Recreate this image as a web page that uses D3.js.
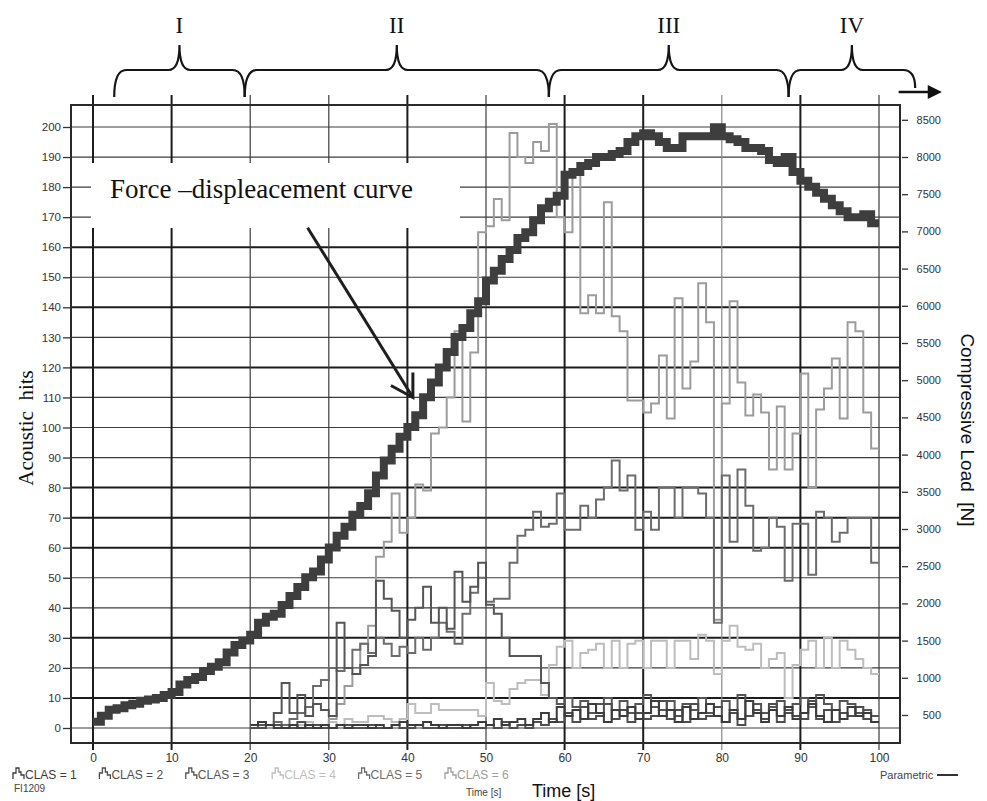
<!DOCTYPE html>
<html>
<head>
<meta charset="utf-8">
<script src="https://cdn.jsdelivr.net/npm/d3@7"></script>
<style>
  body { margin: 0; background: #fff; }
  svg { display: block; }
</style>
</head>
<body>
<svg id="chart" width="987" height="801"></svg>
<script>
// --- data -------------------------------------------------------------
const X_TICKS = [0, 10, 20, 30, 40, 50, 60, 70, 80, 90, 100]
const HIT_TICKS = [0, 10, 20, 30, 40, 50, 60, 70, 80, 90, 100, 110, 120, 130, 140, 150, 160, 170, 180, 190, 200]
const LOAD_TICKS = [500, 1000, 1500, 2000, 2500, 3000, 3500, 4000, 4500, 5000, 5500, 6000, 6500, 7000, 7500, 8000, 8500]

// compressive load [N], one value per second from t = 0
const LOAD_T0 = 0
const LOAD_N = [
  410, 490, 570, 590, 630, 650, 690, 710, 730, 770,
  810, 910, 970, 1010, 1090, 1150, 1210, 1340, 1440, 1500,
  1580, 1740, 1820, 1860, 1980, 2100, 2220, 2350, 2430, 2590,
  2750, 2910, 3030, 3190, 3310, 3480, 3720, 3920, 4080, 4240,
  4370, 4530, 4770, 4970, 5170, 5380, 5580, 5700, 5900, 6060,
  6340, 6470, 6630, 6750, 6910, 6990, 7150, 7310, 7400, 7480,
  7760, 7800, 7880, 7920, 8000, 8000, 8040, 8080, 8200, 8280,
  8320, 8280, 8200, 8120, 8120, 8280, 8280, 8280, 8280, 8400,
  8280, 8240, 8200, 8120, 8120, 8080, 7960, 7920, 8000, 7800,
  7680, 7600, 7520, 7440, 7350, 7270, 7190, 7190, 7230, 7110,
]

// acoustic hits per 1 s bin, per class, from t = 20
const HITS_T0 = 20
const CLAS_1 = [
  1, 2, 1, 0, 0, 1, 0, 1, 0, 1,
  0, 1, 0, 1, 1, 0, 1, 0, 1, 2,
  1, 1, 2, 1, 0, 1, 1, 0, 1, 2,
  1, 3, 1, 2, 3, 1, 3, 5, 2, 7,
  4, 6, 3, 8, 5, 2, 6, 4, 7, 3,
  5, 9, 4, 6, 2, 7, 3, 5, 8, 4,
  2, 6, 3, 9, 5, 2, 6, 4, 7, 3,
  5, 8, 4, 2, 6, 3, 7, 4, 5, 2,
]
const CLAS_2 = [
  0, 0, 1, 1, 0, 0, 2, 0, 1, 0,
  0, 1, 1, 0, 0, 1, 0, 0, 1, 0,
  0, 1, 0, 0, 1, 0, 0, 1, 0, 0,
  1, 0, 2, 0, 1, 0, 2, 1, 3, 2,
  5, 2, 7, 3, 4, 8, 3, 6, 2, 5,
  3, 4, 9, 3, 6, 2, 8, 3, 4, 7,
  2, 5, 1, 4, 6, 3, 8, 2, 5, 4,
  3, 9, 3, 6, 2, 5, 4, 7, 3, 2,
]
const CLAS_3 = [
  0, 1, 1, 5, 15, 5, 11, 4, 8, 6,
  4, 35, 20, 18, 21, 24, 49, 43, 39, 30,
  36, 40, 47, 35, 40, 33, 52, 42, 47, 55,
  41, 38, 30, 24, 24, 24, 24, 15, 10, 8,
  10, 7, 9, 5, 8, 10, 6, 9, 5, 8,
  11, 7, 6, 9, 4, 8, 6, 10, 5, 7,
  9, 6, 11, 4, 8, 5, 7, 9, 6, 8,
  10, 7, 11, 8, 6, 9, 8, 5, 6, 4,
]
const CLAS_4 = [
  1, 2, 1, 0, 1, 0, 1, 2, 1, 0,
  2, 1, 3, 2, 2, 4, 4, 3, 2, 3,
  8, 5, 5, 8, 6, 6, 6, 6, 6, 4,
  15, 9, 8, 13, 15, 16, 16, 11, 21, 27,
  29, 20, 25, 26, 28, 20, 29, 20, 28, 29,
  20, 29, 29, 20, 29, 29, 23, 31, 29, 18,
  29, 34, 27, 26, 28, 20, 23, 25, 10, 21,
  26, 29, 20, 30, 20, 29, 26, 23, 20, 18,
]
const CLAS_5 = [
  0, 0, 1, 2, 1, 3, 5, 7, 14, 16,
  20, 19, 20, 26, 28, 25, 30, 28, 24, 27,
  25, 30, 26, 30, 35, 32, 28, 38, 45, 50,
  42, 43, 43, 55, 64, 66, 72, 67, 68, 78,
  66, 66, 74, 70, 76, 80, 89, 79, 84, 66,
  72, 66, 80, 80, 70, 80, 80, 78, 70, 35,
  84, 62, 86, 74, 59, 60, 70, 67, 49, 68,
  68, 51, 72, 70, 62, 65, 70, 70, 70, 55,
]
const CLAS_6 = [
  0, 1, 0, 0, 1, 0, 0, 1, 0, 1,
  3, 8, 14, 18, 28, 34, 57, 62, 78, 65,
  70, 81, 79, 98, 100, 110, 132, 102, 125, 165,
  167, 176, 169, 198, 190, 188, 195, 192, 201, 170,
  165, 186, 138, 144, 138, 175, 137, 132, 109, 109,
  105, 108, 124, 103, 143, 113, 122, 148, 135, 36,
  108, 142, 115, 104, 111, 105, 86, 107, 86, 98,
  118, 80, 106, 113, 123, 103, 135, 132, 105, 93,
]

// test phases over the time axis
const PHASES = [
  { label: 'I', start: 2.7, end: 19.3 },
  { label: 'II', start: 19.3, end: 58 },
  { label: 'III', start: 58, end: 88.5 },
  { label: 'IV', start: 88.5, end: 104.6 },
]

// --- layout ------------------------------------------------------------
const FRAME = { left: 71, right: 900, top: 105, bottom: 743 }
const SANS = "'Liberation Sans', Arial, sans-serif"
const SERIF = "'Liberation Serif', 'Times New Roman', serif"
const HEAVY_H = [10, 30, 60, 70, 80, 120, 140, 160]
const HEAVY_V = [0, 10, 40, 60, 70, 90]

const x = d3.scaleLinear().domain([0, 100]).range([93, 879])
const yHits = d3.scaleLinear().domain([0, 200]).range([728, 127])
const yLoad = d3.scaleLinear().domain([500, 8000]).range([715, 157])

const SERIES = [
  { name: 'CLAS = 1', values: CLAS_1, color: '#3c3c3c' },
  { name: 'CLAS = 2', values: CLAS_2, color: '#4e4e4e' },
  { name: 'CLAS = 3', values: CLAS_3, color: '#555555' },
  { name: 'CLAS = 4', values: CLAS_4, color: '#bdbdbd' },
  { name: 'CLAS = 5', values: CLAS_5, color: '#6c6c6c' },
  { name: 'CLAS = 6', values: CLAS_6, color: '#9c9c9c' },
]
const DRAW_ORDER = [3, 5, 4, 2, 1, 0]

const svg = d3.select('#chart')
svg.append('rect').attr('width', 987).attr('height', 801).attr('fill', '#fff')

// grid
const grid = svg.append('g')
grid.selectAll('line.h')
  .data(HIT_TICKS)
  .join('line')
  .attr('x1', FRAME.left).attr('x2', FRAME.right)
  .attr('y1', (d) => yHits(d)).attr('y2', (d) => yHits(d))
  .attr('stroke', (d) => (HEAVY_H.includes(d) ? '#1c1c1c' : '#3c3c3c'))
  .attr('stroke-width', (d) => (HEAVY_H.includes(d) ? 2 : 1.2))

grid.selectAll('line.v')
  .data(X_TICKS)
  .join('line')
  .attr('x1', (d) => x(d)).attr('x2', (d) => x(d))
  .attr('y1', FRAME.top - 10).attr('y2', FRAME.bottom + 7)
  .attr('stroke', (d) => (d === 80 ? '#888' : HEAVY_V.includes(d) ? '#1c1c1c' : '#3c3c3c'))
  .attr('stroke-width', (d) => (HEAVY_V.includes(d) ? 2 : 1.2))

svg.append('rect')
  .attr('x', FRAME.left).attr('y', FRAME.top)
  .attr('width', FRAME.right - FRAME.left).attr('height', FRAME.bottom - FRAME.top)
  .attr('fill', 'none').attr('stroke', '#2a2a2a').attr('stroke-width', 2)

// acoustic emission histograms
const hitLine = d3.line()
  .x((d) => x(d.t))
  .y((d) => yHits(d.v))
  .curve(d3.curveStepAfter)

const stepPoints = (values, t0) => {
  const pts = values.map((v, i) => ({ t: t0 + i, v }))
  pts.push({ t: t0 + values.length, v: values[values.length - 1] })
  return pts
}

svg.append('g')
  .selectAll('path')
  .data(DRAW_ORDER.map((i) => SERIES[i]))
  .join('path')
  .attr('d', (s) => hitLine(stepPoints(s.values, HITS_T0)))
  .attr('fill', 'none')
  .attr('stroke', (s) => s.color)
  .attr('stroke-width', 2)

// force curve
const loadLine = d3.line()
  .x((d) => x(d.t))
  .y((d) => yLoad(d.v))
  .curve(d3.curveStepAfter)

svg.append('path')
  .attr('d', loadLine(stepPoints(LOAD_N, LOAD_T0)))
  .attr('fill', 'none')
  .attr('stroke', '#3e3e3e')
  .attr('stroke-width', 8)

// callout
svg.append('rect')
  .attr('x', 91).attr('y', 163).attr('width', 369).attr('height', 65)
  .attr('fill', '#fff')
svg.append('text')
  .attr('x', 110).attr('y', 198)
  .attr('font-family', SERIF).attr('font-size', 27).attr('fill', '#111')
  .text('Force \u2013displeacement curve')

const tip = [x(40.7), yHits(110)]
const tail = [x(27.3), yHits(166.5)]
const callout = svg.append('g').attr('stroke', '#1e1e1e').attr('stroke-width', 3).attr('fill', 'none')
callout.append('line')
  .attr('x1', tail[0]).attr('y1', tail[1]).attr('x2', tip[0]).attr('y2', tip[1])
callout.append('path')
  .attr('d', `M${tip[0] - 22},${tip[1] - 12} L${tip[0]},${tip[1]} L${tip[0]},${tip[1] - 25}`)

// phase braces
const Y_END = 97
const Y_BAR = 70
const Y_CUSP = 45
const brace = (x0, x1, last) => {
  const xc = (x0 + x1) / 2
  const yEnd = last ? Y_END - 9 : Y_END
  return `M${x0},${Y_END} Q${x0},${Y_BAR} ${x0 + 12},${Y_BAR} ` +
    `L${xc - 11},${Y_BAR} Q${xc},${Y_BAR} ${xc},${Y_CUSP} ` +
    `Q${xc},${Y_BAR} ${xc + 11},${Y_BAR} ` +
    `L${x1 - 12},${Y_BAR} Q${x1},${Y_BAR} ${x1},${yEnd}`
}

const phases = svg.append('g')
phases.selectAll('path')
  .data(PHASES)
  .join('path')
  .attr('d', (d, i) => brace(x(d.start), x(d.end), i === PHASES.length - 1))
  .attr('fill', 'none').attr('stroke', '#151515').attr('stroke-width', 2.2)

phases.selectAll('text')
  .data(PHASES)
  .join('text')
  .attr('x', (d) => x((d.start + d.end) / 2))
  .attr('y', 33)
  .attr('text-anchor', 'middle')
  .attr('font-family', SERIF).attr('font-size', 23).attr('fill', '#111')
  .text((d) => d.label)

svg.append('line')
  .attr('x1', x(102.5)).attr('x2', x(107.2)).attr('y1', 92).attr('y2', 92)
  .attr('stroke', '#111').attr('stroke-width', 2.5)
svg.append('path')
  .attr('d', `M${x(106.2)},85 L${x(108)},92 L${x(106.2)},99 Z`)
  .attr('fill', '#111')

// axes
const styleAxis = (g) => {
  g.select('.domain').remove()
  g.selectAll('.tick line').attr('stroke', '#333').attr('stroke-width', 1.3)
  g.selectAll('.tick text').attr('fill', '#333').attr('font-family', SANS)
}

svg.append('g')
  .attr('transform', `translate(${FRAME.left},0)`)
  .call(d3.axisLeft(yHits).tickValues(HIT_TICKS).tickSize(8).tickPadding(2))
  .call(styleAxis)
  .call((g) => g.selectAll('.tick text').attr('font-size', 11.5))

svg.append('g')
  .attr('transform', `translate(902,0)`)
  .call(d3.axisRight(yLoad).tickValues(LOAD_TICKS).tickSize(6).tickFormat(d3.format('d')))
  .call(styleAxis)
  .call((g) => g.selectAll('.tick text').attr('font-size', 11).attr('text-anchor', 'end').attr('x', 39))

svg.append('g')
  .attr('transform', `translate(0,${FRAME.bottom + 8})`)
  .call(d3.axisBottom(x).tickValues(X_TICKS).tickSize(0).tickPadding(2))
  .call(styleAxis)
  .call((g) => g.selectAll('.tick text').attr('font-size', 12))

// axis titles
svg.append('text')
  .attr('transform', 'translate(33,428) rotate(-90)')
  .attr('text-anchor', 'middle')
  .attr('font-family', SERIF).attr('font-size', 21).attr('fill', '#111')
  .style('white-space', 'pre')
  .text('Acoustic  hits')

svg.append('text')
  .attr('transform', 'translate(961,430) rotate(90)')
  .attr('text-anchor', 'middle')
  .attr('font-family', SANS).attr('font-size', 19).attr('fill', '#111')
  .style('white-space', 'pre')
  .text('Compressive Load  [N]')

svg.append('text')
  .attr('x', 532).attr('y', 797)
  .attr('font-family', SANS).attr('font-size', 18).attr('fill', '#111')
  .text('Time [s]')

// class legend
const legend = svg.append('g')
  .selectAll('g')
  .data(SERIES)
  .join('g')
  .attr('transform', (d, i) => `translate(${13 + i * 86.4},767)`)

legend.append('path')
  .attr('d', 'M0,12 V6 H3 V1 H6 V5 H8 V8 H11 V12')
  .attr('fill', 'none')
  .attr('stroke', (d) => d.color)
  .attr('stroke-width', 1.3)

legend.append('text')
  .attr('x', 12).attr('y', 11.5)
  .attr('font-family', SANS).attr('font-size', 12)
  .attr('fill', (d) => d.color)
  .text((d) => d.name)

svg.append('text')
  .attr('x', 14).attr('y', 792)
  .attr('font-family', SANS).attr('font-size', 10).attr('fill', '#444')
  .text('FI1209')

svg.append('text')
  .attr('x', 466).attr('y', 796)
  .attr('font-family', SANS).attr('font-size', 10).attr('fill', '#444')
  .text('Time [s]')

svg.append('text')
  .attr('x', 880).attr('y', 779)
  .attr('font-family', SANS).attr('font-size', 11).attr('fill', '#444')
  .text('Parametric')
svg.append('line')
  .attr('x1', 937).attr('x2', 958).attr('y1', 775).attr('y2', 775)
  .attr('stroke', '#333').attr('stroke-width', 2)
</script>
</body>
</html>
